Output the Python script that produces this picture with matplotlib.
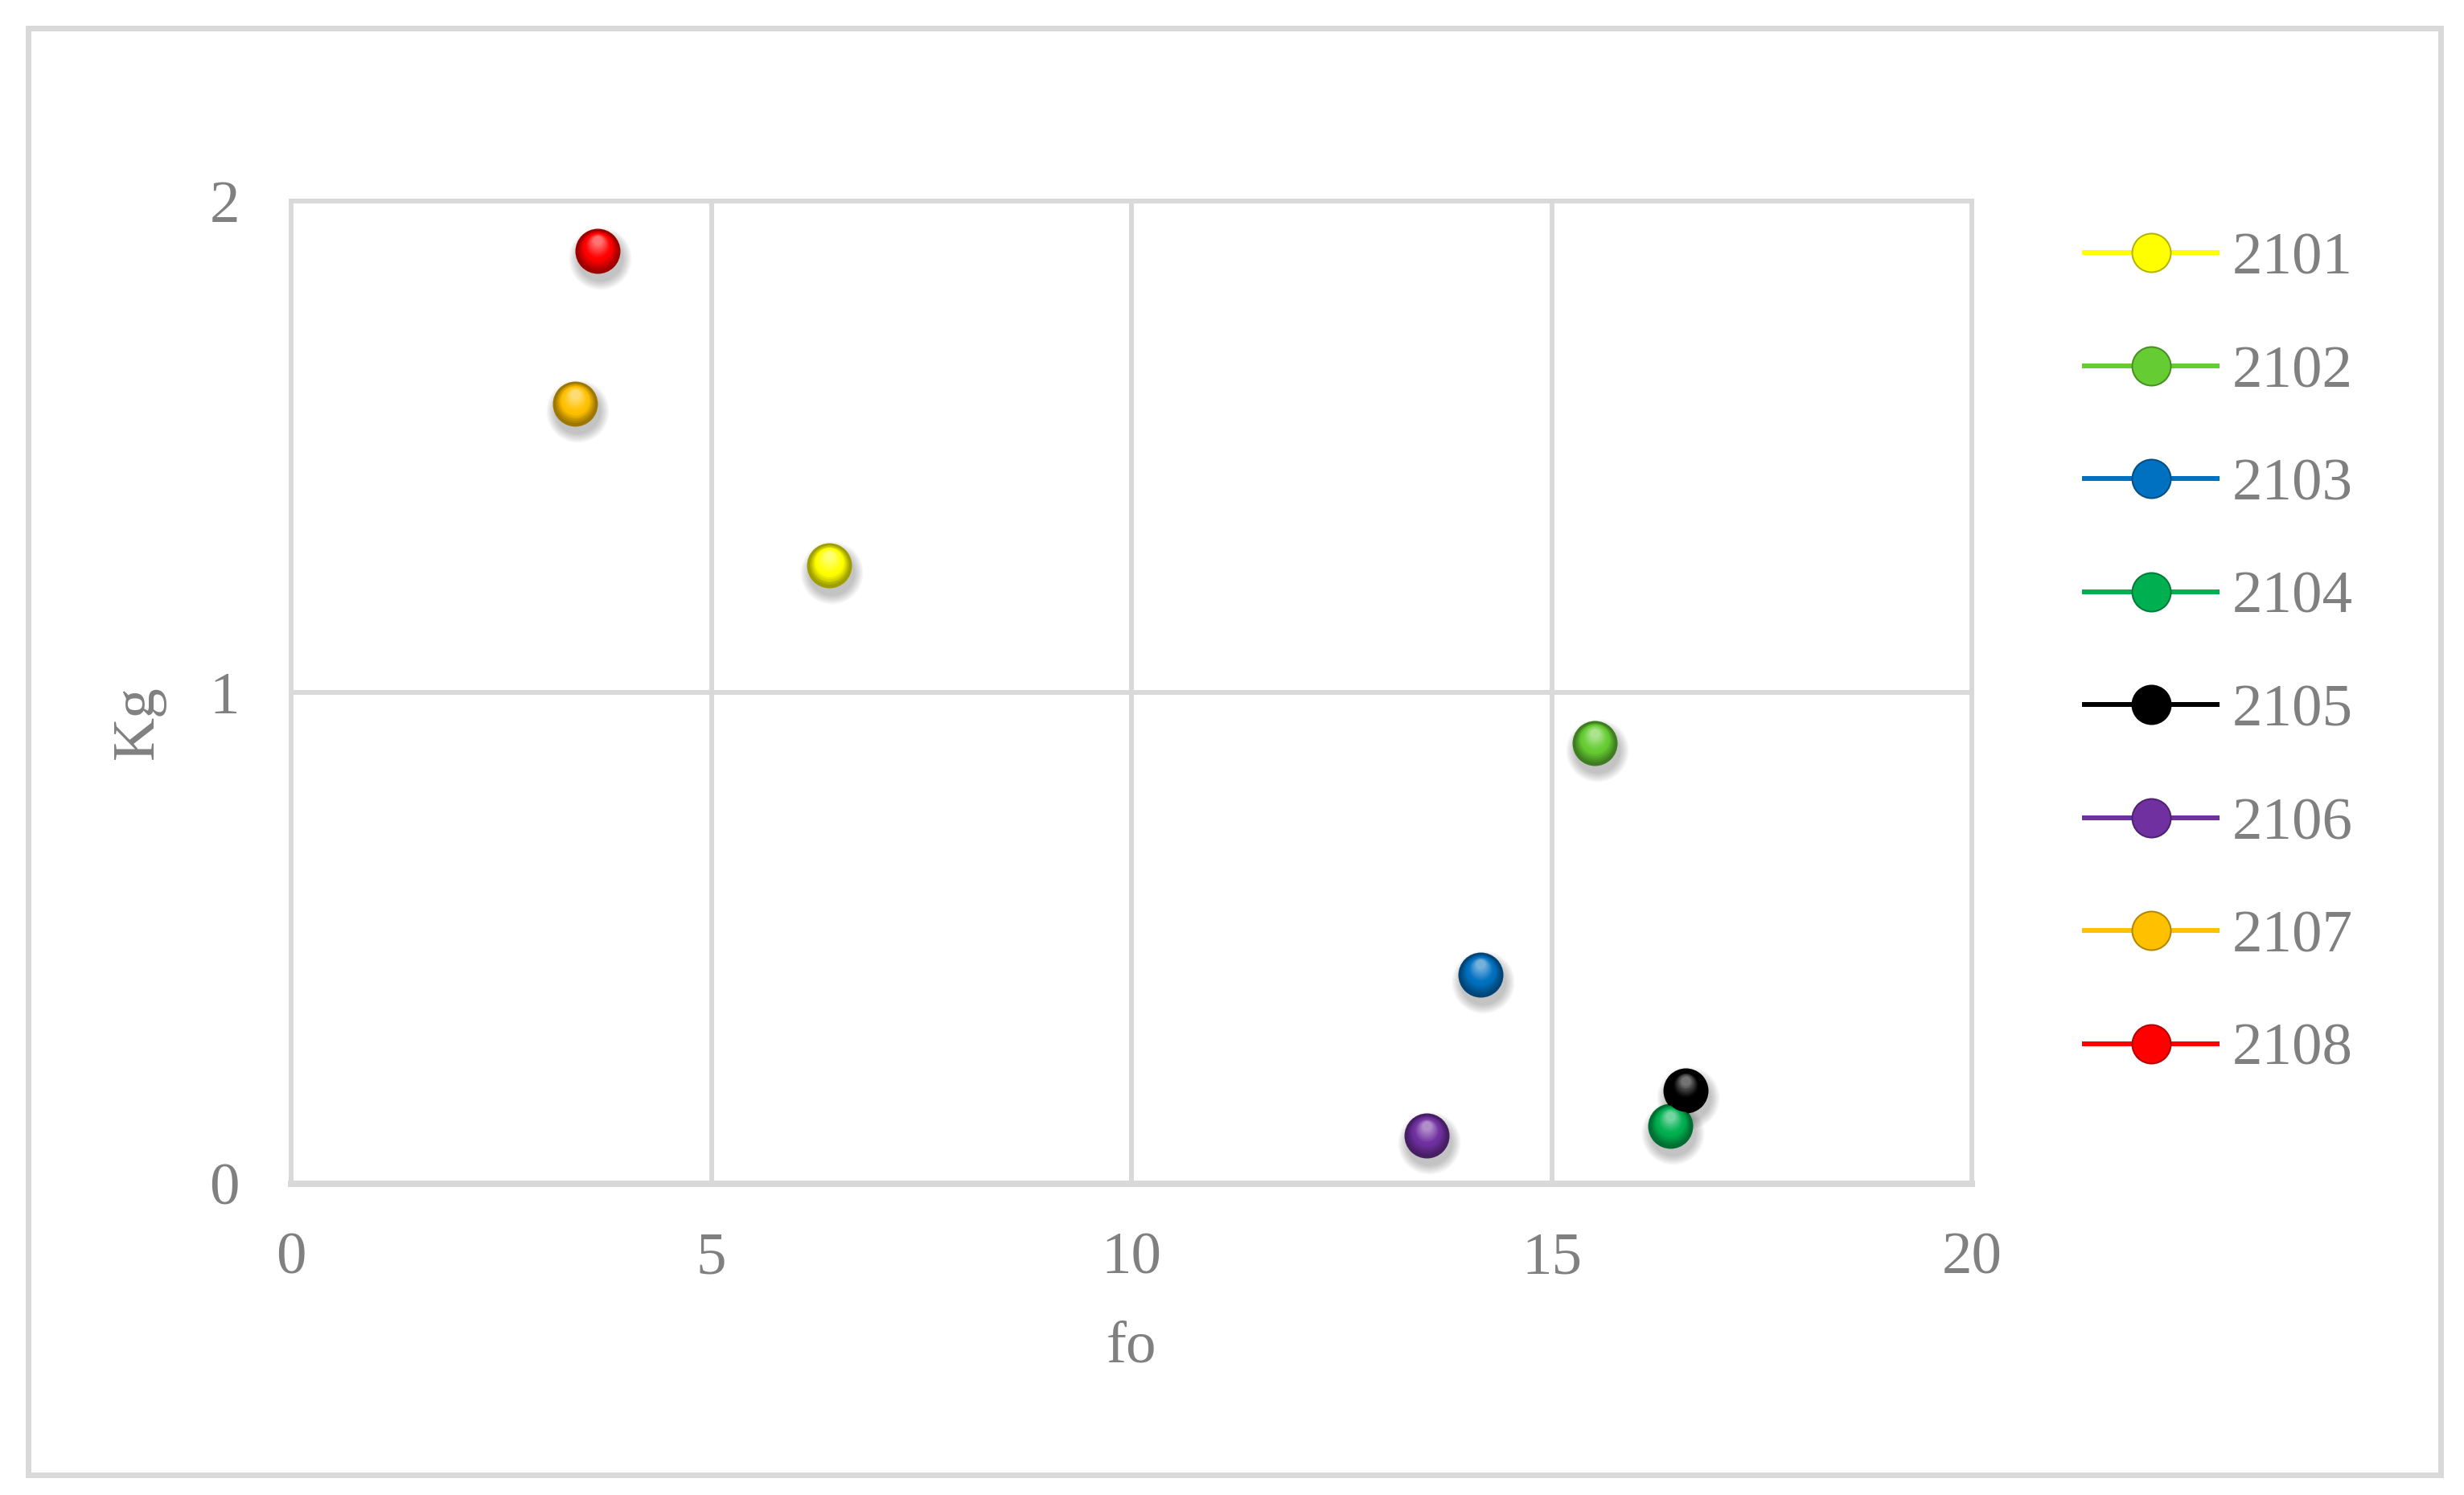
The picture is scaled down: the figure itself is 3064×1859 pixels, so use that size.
import numpy as np
import matplotlib
matplotlib.use('Agg')
import matplotlib.pyplot as plt
import matplotlib.transforms as mtransforms
from matplotlib.colors import to_rgb
from matplotlib.lines import Line2D
from matplotlib.patches import Rectangle

# data
wells = ['2101', '2102', '2103', '2104', '2105', '2106', '2107', '2108']
fo = [6.40, 15.51, 14.15, 16.41, 16.59, 13.51, 3.38, 3.65]
kg = [1.258, 0.897, 0.426, 0.118, 0.190, 0.098, 1.587, 1.899]
colors = ['#FFFF00', '#66CC33', '#0070C0', '#00B050', '#000000', '#7030A0', '#FFC000', '#FF0000']
x_ticks = [0, 5, 10, 15, 20]
y_ticks = [0, 1, 2]

DPI = 100
W, H = 3064, 1859
GRID = '#d9d9d9'
TXT = '#808080'
FS = 54


def px(p):
    # pixels -> points
    return p * 72.0 / DPI


def blend(c1, c2, t):
    c1 = np.array(to_rgb(c1))
    c2 = np.array(to_rgb(c2))
    return tuple(c1 * (1 - t) + c2 * t)


def sphere(ax, fig, x, y, color, d=56):
    # soft shadow below the ball
    for k in range(8):
        dd = d + 22 - k * 3
        tr = mtransforms.offset_copy(ax.transData, fig=fig, x=3, y=-9, units='dots')
        ax.scatter([x], [y], s=px(dd) ** 2, color='black', alpha=0.03,
                   linewidths=0, transform=tr, zorder=3)
    base = np.array(to_rgb(color))
    if base.sum() < 0.05:
        rim = (0.0, 0.0, 0.0)
        light = (0.45, 0.45, 0.45)
    else:
        rim = tuple(base * 0.62)
        light = blend(color, 'white', 0.45)
    ax.scatter([x], [y], s=px(d) ** 2, color=rim, linewidths=0, zorder=4)
    n = 14
    for i in range(n):
        t = i / (n - 1)
        dd = d * (0.93 - 0.72 * t)
        oy = d * 0.22 * t
        if t < 0.5:
            c = blend(rim, color, min(1, t * 2.5))
        else:
            c = blend(color, light, (t - 0.5) * 2)
        tr = mtransforms.offset_copy(ax.transData, fig=fig, x=0, y=oy, units='dots')
        ax.scatter([x], [y], s=px(dd) ** 2, color=c, linewidths=0,
                   transform=tr, zorder=5)


plt.rcParams['font.family'] = ['Liberation Serif', 'DejaVu Serif']

fig = plt.figure(figsize=(W / DPI, H / DPI), dpi=DPI)
fig.patch.set_facecolor('white')

# outer chart border
fig.patches.append(Rectangle((34.5 / W, 1 - 1833.5 / H), 3000 / W, 1798.5 / H,
                             transform=fig.transFigure, fill=False,
                             edgecolor=GRID, linewidth=px(7), zorder=0))

ax = fig.add_axes([362 / W, 1 - 1472 / H, (2452 - 362) / W, (1472 - 250) / H])
ax.set_xlim(0, 20)
ax.set_ylim(0, 2)
ax.set_xticks(x_ticks)
ax.set_yticks(y_ticks)
ax.grid(True, color=GRID, linewidth=px(6))
ax.set_axisbelow(True)
for side in ['top', 'right', 'left']:
    ax.spines[side].set_color(GRID)
    ax.spines[side].set_linewidth(px(6))
ax.spines['bottom'].set_color(GRID)
ax.spines['bottom'].set_linewidth(px(8))
ax.tick_params(axis='both', length=0, labelsize=FS, labelcolor=TXT)
ax.tick_params(axis='y', pad=px(64))
ax.tick_params(axis='x', pad=px(60))

for i in range(len(wells)):
    sphere(ax, fig, fo[i], kg[i], colors[i])

fig.text(1407 / W, 1 - 1676 / H, 'fo', fontsize=FS, color=TXT, ha='center', va='center')
fig.text(172 / W, 1 - 898 / H, 'Kg', fontsize=FS, color=TXT, ha='center', va='center',
         rotation=90)

handles = [Line2D([], [], color=c, linewidth=px(6), marker='o', markersize=px(48),
                  markerfacecolor=c, markeredgecolor=blend(c, 'black', 0.3),
                  markeredgewidth=px(2)) for c in colors]
leg = fig.legend(handles, wells, loc='upper left', bbox_to_anchor=(2592 / W, 1 - 288 / H),
                 frameon=False, fontsize=FS, handlelength=2.2, handletextpad=0.25,
                 labelspacing=0.96, borderpad=0, borderaxespad=0)
for t in leg.get_texts():
    t.set_color(TXT)

fig.savefig('out.png', dpi=DPI)
